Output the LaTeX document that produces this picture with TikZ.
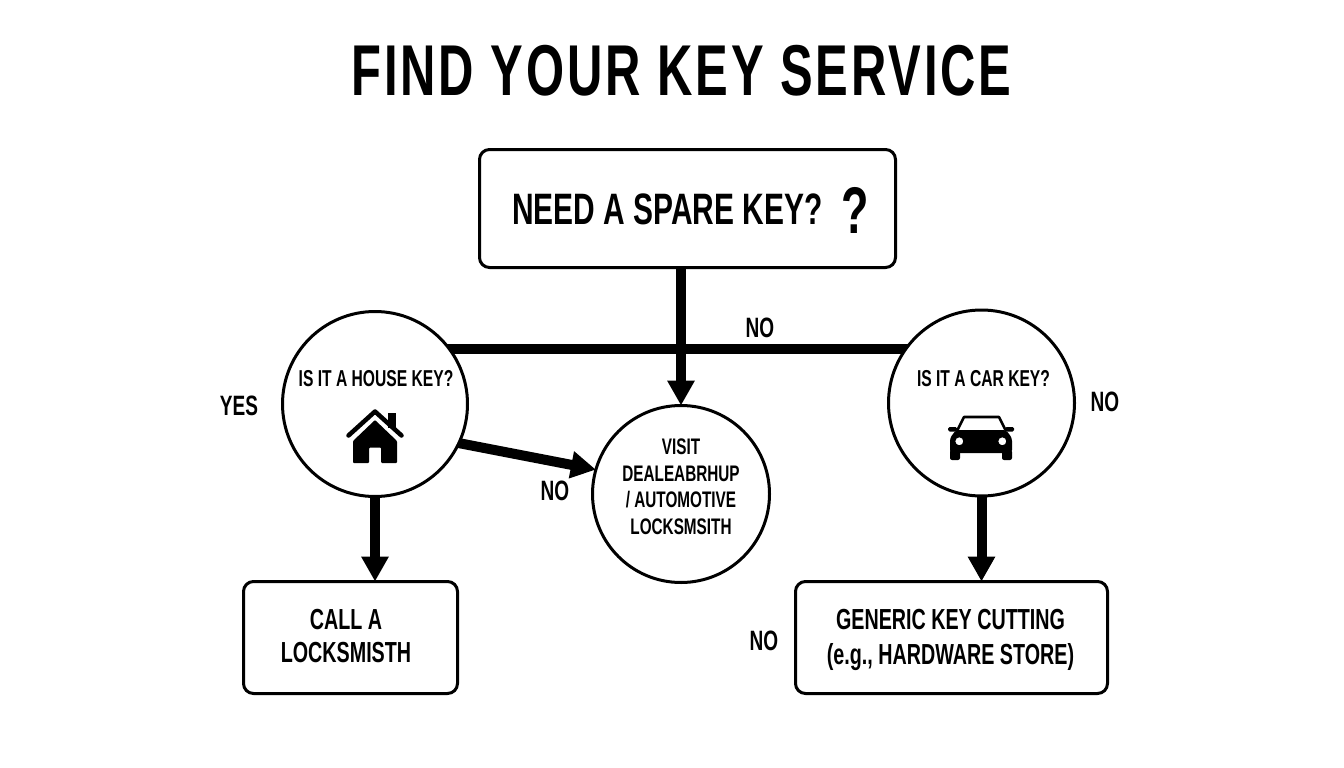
\documentclass[tikz,border=0pt]{standalone}
\usepackage{fontspec}
\setmainfont[FakeStretch=0.68]{Liberation Sans}
\usetikzlibrary{arrows.meta, backgrounds}
\tikzset{
    domanda/.style = {circle, draw, fill = white, line width = 3pt, inner sep = 0pt, outer sep = 0pt, minimum size = #1},
    scatola/.style = {rectangle, draw, line width = 3pt, rounded corners = 10pt, inner sep = 0pt, outer sep = 0pt, align = center, minimum width = #1, minimum height = 112pt},
    testo/.style = {font = \fontsize{#1}{#1}\selectfont\bfseries, inner sep = 0pt, align = center},
    barra/.style = {line width = 10pt},
    freccia/.style = {line width = 10pt, -{Triangle[length = 25pt, width = 26pt]}}
}
\begin{document}
\begin{tikzpicture}[x = 1pt, y = -1pt]
    \useasboundingbox (0,0) rectangle (1344,768);
    % Titolo
    \node[testo = 72pt] (titolo) at (681.5,71) {\addfontfeature{LetterSpace=4}FIND YOUR KEY SERVICE};
    % Scatola in alto
    \node[scatola = 416pt, minimum height = 118pt] (Spare) at (687.5,208.5) {};
    \node[testo = 44pt] (SpareTesto) at (667.5,209.5) {NEED A SPARE KEY?};
    \node[testo = 66pt] (SpareSegno) at (855,210) {?};
    % Cerchi
    \node[domanda = 185pt] (HouseKey) at (375,404) {};
    \node[domanda = 177pt] (Visit) at (681,494) {};
    \node[domanda = 186pt] (CarKey) at (981.5,403) {};
    \node[testo = 23pt] (HouseTesto) at (376,379) {IS IT A HOUSE KEY?};
    \node[testo = 23pt] (CarTesto) at (983.5,379) {IS IT A CAR KEY?};
    \node[testo = 22.5pt] (VisitTesto) at (681,486.5) {VISIT\\[4pt]DEALEABRHUP\\[4pt]/ AUTOMOTIVE\\[4pt]LOCKSMSITH};
    % Scatole in basso
    \node[scatola = 214pt] (CallBox) at (350.5,637.5) {};
    \node[testo = 29pt] (CallTesto) at (346,636.5) {CALL A\\[4pt]LOCKSMISTH};
    \node[scatola = 312pt] (GenericBox) at (951.5,637.5) {};
    \node[testo = 29pt] (GenericTesto) at (950.5,640) {GENERIC KEY CUTTING\\[6pt](e.g., HARDWARE STORE)};
    % Frecce
    \coordinate (quotaBarra) at (681,349);
    \begin{scope}[on background layer]
        \draw[barra] (quotaBarra -| HouseKey.center) -- (quotaBarra -| CarKey.center);
    \end{scope}
    \draw[freccia] (Spare.south -| Visit.north) -- (Visit.north);
    \draw[freccia] (HouseKey.-25) -- (Visit.164);
    \draw[freccia] (HouseKey.south) -- (HouseKey.south |- CallBox.north);
    \draw[freccia] (CarKey.south) -- (CarKey.south |- GenericBox.north);
    % Etichette
    \node[testo = 28pt] (noAlto) at (760,328) {NO};
    \node[testo = 28pt] (yesCasa) at (239,406) {YES};
    \node[testo = 28pt] (noCasa) at (555,491) {NO};
    \node[testo = 28pt] (noAuto) at (1105,402) {NO};
    \node[testo = 28pt] (noGenerico) at (764,641) {NO};
    % Casa
    \fill (388,413) rectangle (396,428);
    \draw[line width = 4.5pt, line cap = round, line join = round] (348.5,435.5) -- (375,411.5) -- (401.5,435.5);
    \fill[rounded corners = 1pt] (353,463) -- (353,441) -- (375,420) -- (397,441) -- (397,463) -- (381,463) -- (381,447.5) -- (369,447.5) -- (369,463) -- cycle;
    % Automobile
    \draw[line width = 2.6pt, line join = round] (957,431) -- (964,417) -- (999,417) -- (1006,431);
    \fill[rounded corners = 3pt, even odd rule] (950,453) -- (950,438) -- (956,430) -- (1006,430) -- (1012,438) -- (1012,453) -- cycle (959.3,441.3) circle (4pt) (1002.3,441.3) circle (4pt);
    \fill[rounded corners = 2pt] (950,450) rectangle (960,460);
    \fill[rounded corners = 2pt] (1002,450) rectangle (1012,460);
    \fill[rounded corners = 1.5pt] (948,427) rectangle (957,431.5);
    \fill[rounded corners = 1.5pt] (1005,427) rectangle (1014,431.5);
\end{tikzpicture}
\end{document}
